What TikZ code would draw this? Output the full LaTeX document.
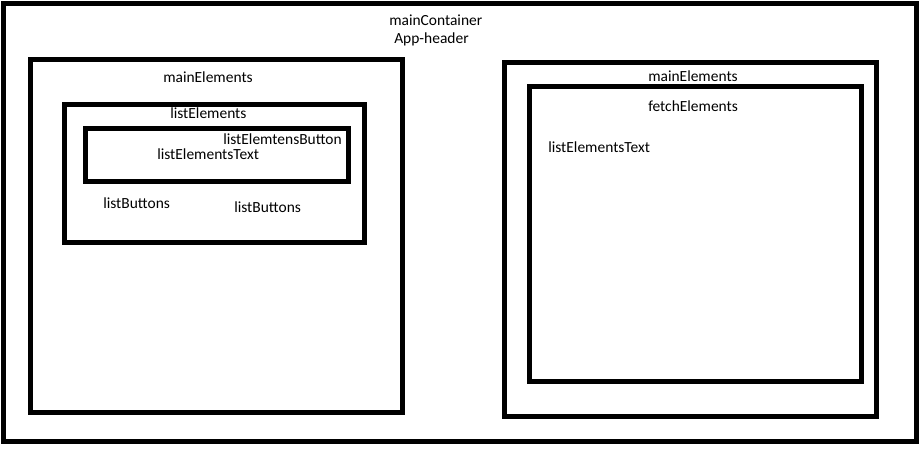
\documentclass[tikz,border=0pt]{standalone}
\usepackage{fontspec}
\setmainfont{Carlito}
\begin{document}
\begin{tikzpicture}[x=0.75pt,y=-0.75pt,
	box/.style={line width=3.75pt},
	lbl/.style={anchor=base west,inner sep=0pt,font=\fontsize{11.6}{13}\selectfont}]

	\useasboundingbox (0,0) rectangle (924,453);

	% outer container
	\draw[box] (3.5,4) rectangle (916.5,441.5);
	\node[lbl] (mainContainer) at (389,26) {mainContainer};
	\node[lbl] (appHeader) at (394,44) {App-header};

	% left side
	\draw[box] (30.5,59.5) rectangle (402.5,412.5);
	\draw[box] (64.5,104.5) rectangle (364.5,242.5);
	\draw[box] (85.5,128.5) rectangle (348.5,181.5);

	\node[lbl] (mainElementsL) at (163,83) {mainElements};
	\node[lbl] (listElements) at (170,118) {listElements};
	\node[lbl] (listButton) at (223,144) {listElemtensButton};
	\node[lbl] (listTextL) at (157,159) {listElementsText};
	\node[lbl] (listButtonsA) at (103,208) {listButtons};
	\node[lbl] (listButtonsB) at (234,212) {listButtons};

	% right side
	\draw[box] (504.5,62.5) rectangle (876.5,416.5);
	\draw[box] (529.5,86.5) rectangle (861.5,381.5);

	\node[lbl] (mainElementsR) at (648,82) {mainElements};
	\node[lbl] (fetchElements) at (648,111) {fetchElements};
	\node[lbl] (listTextR) at (548,152) {listElementsText};

\end{tikzpicture}
\end{document}
